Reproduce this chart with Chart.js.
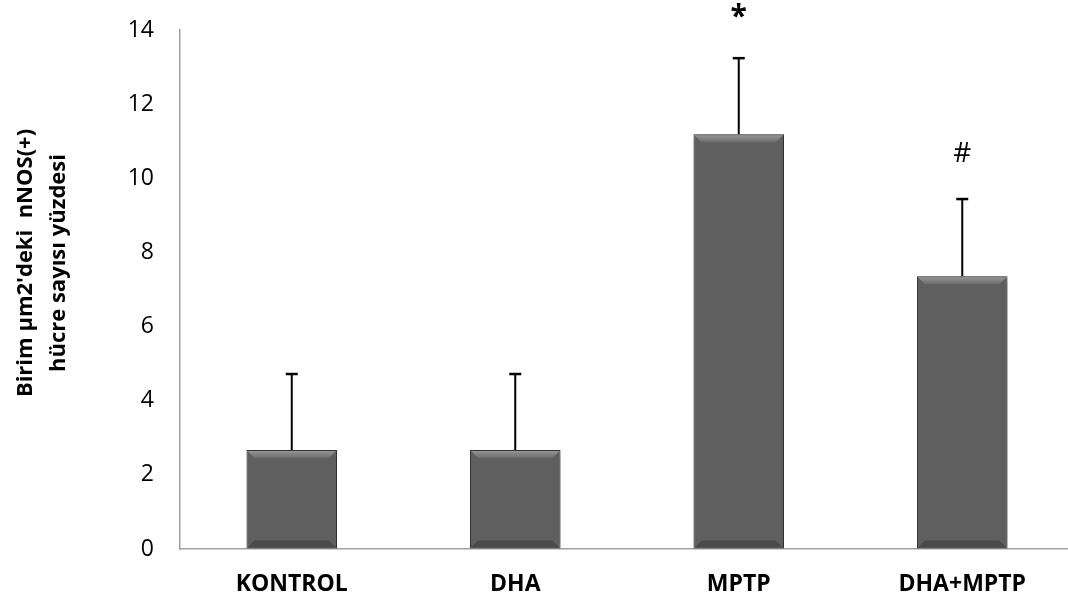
<!DOCTYPE html>
<html>
<head>
<meta charset="utf-8">
<title>nNOS(+) hücre sayısı</title>
<script src="https://cdn.jsdelivr.net/npm/chart.js@4/dist/chart.umd.min.js"></script>
<style>
    html, body { margin: 0; padding: 0; background: #fff; overflow: hidden; }
    #wrap { position: absolute; left: 0; top: 0; width: 1080px; height: 602px; }
</style>
</head>
<body>
<div id="wrap"><canvas id="chart"></canvas></div>
<script>
// ---- data ----
const categories = ['KONTROL', 'DHA', 'MPTP', 'DHA+MPTP'];
const means = [2.67, 2.67, 11.19, 7.36];
const errors = [2.05, 2.05, 2.05, 2.08];     // upper error bar only
const marks = ['', '', '*', '#'];              // significance signs
const yTitle = ["Birim µm2'deki  nNOS(+)", 'hücre sayısı yüzdesi'];
const yMin = 0, yMax = 14, yStep = 2;

const FONT = "'Open Sans', sans-serif";

/**
 * Excel-like bevel + shadow on bars, error bars and significance marks
 */
const decorations = {
    id: 'decorations',
    beforeDatasetsDraw(chart) {
        const ctx = chart.ctx;
        ctx.save();
        ctx.shadowColor = 'rgba(0,0,0,0.4)';
        ctx.shadowBlur = 7;
        ctx.shadowOffsetX = 1;
        ctx.shadowOffsetY = 1;
    },
    afterDatasetsDraw(chart) {
        const ctx = chart.ctx;
        ctx.restore();
        const y = chart.scales.y;
        const meta = chart.getDatasetMeta(0);

        meta.data.forEach((bar, i) => {
            const half = bar.width / 2;
            const left = bar.x - half, right = bar.x + half;
            const top = bar.y, base = bar.base;
            const b = 8;

            // top bevel
            const g = ctx.createLinearGradient(0, top, 0, top + b);
            g.addColorStop(0, '#9a9a9a');
            g.addColorStop(1, '#6c6c6c');
            ctx.fillStyle = g;
            ctx.beginPath();
            ctx.moveTo(left + 1, top + 1);
            ctx.lineTo(right - 1, top + 1);
            ctx.lineTo(right - b, top + b);
            ctx.lineTo(left + b, top + b);
            ctx.closePath();
            ctx.fill();

            // bottom bevel
            ctx.fillStyle = '#4a4a4a';
            ctx.beginPath();
            ctx.moveTo(left + 1, base - 1);
            ctx.lineTo(right - 1, base - 1);
            ctx.lineTo(right - b, base - b);
            ctx.lineTo(left + b, base - b);
            ctx.closePath();
            ctx.fill();

            // error bar (upper)
            const yTop = y.getPixelForValue(means[i] + errors[i]);
            ctx.strokeStyle = '#000';
            ctx.lineWidth = 2;
            ctx.beginPath();
            ctx.moveTo(bar.x, top);
            ctx.lineTo(bar.x, yTop);
            ctx.stroke();
            ctx.lineWidth = 2.5;
            ctx.beginPath();
            ctx.moveTo(bar.x - 6, yTop);
            ctx.lineTo(bar.x + 6, yTop);
            ctx.stroke();

            // significance mark
            if (marks[i]) {
                ctx.fillStyle = '#000';
                ctx.textAlign = 'center';
                ctx.textBaseline = 'alphabetic';
                if (marks[i] === '*') {
                    ctx.font = 'bold 30px ' + FONT;
                    ctx.fillText(marks[i], bar.x, yTop - 47 + 15);
                } else {
                    ctx.font = '28px ' + FONT;
                    ctx.fillText(marks[i], bar.x, yTop - 47 + 10);
                }
            }
        });
    },
    afterDraw(chart) {
        // two-line rotated y axis title
        const ctx = chart.ctx;
        ctx.save();
        ctx.translate(32, 263);
        ctx.rotate(-Math.PI / 2);
        ctx.fillStyle = '#000';
        ctx.font = 'bold 22px ' + FONT;
        ctx.textAlign = 'center';
        ctx.textBaseline = 'alphabetic';
        ctx.fillText(yTitle[0], 0, 0);
        ctx.fillText(yTitle[1], 0, 33);
        ctx.restore();
    },
};

new Chart(document.getElementById('chart').getContext('2d'), {
    type: 'bar',
    data: {
        labels: categories,
        datasets: [{
            data: means,
            backgroundColor: '#5f5f5f',
            borderColor: '#3a3a3a',
            borderWidth: 1,
            categoryPercentage: 1,
            barPercentage: 0.405,
        }],
    },
    options: {
        responsive: true,
        maintainAspectRatio: false,
        animation: false,
        layout: { padding: { top: 30, right: 6, bottom: 0, left: 0 } },
        plugins: {
            legend: { display: false },
            tooltip: { enabled: false },
            title: { display: false },
        },
        scales: {
            x: {
                grid: { display: true, drawOnChartArea: false, drawTicks: false },
                border: { display: true, color: '#a0a0a0', width: 1.5 },
                ticks: { color: '#000', padding: 22, font: { family: FONT, size: 23, weight: 'bold' } },
                afterFit(scale) { scale.height = 53; },
            },
            y: {
                min: yMin,
                max: yMax,
                grid: { display: true, drawOnChartArea: false, drawTicks: false },
                border: { display: true, color: '#a0a0a0', width: 1.5 },
                ticks: { stepSize: yStep, color: '#000', padding: 26, font: { family: FONT, size: 23 } },
                afterFit(scale) {
                    scale.width = 180;
                    // tick padding would otherwise push the plot top down
                    scale.paddingTop = 14;
                    scale.paddingBottom = 14;
                },
            },
        },
    },
    plugins: [decorations],
});
</script>
</body>
</html>
